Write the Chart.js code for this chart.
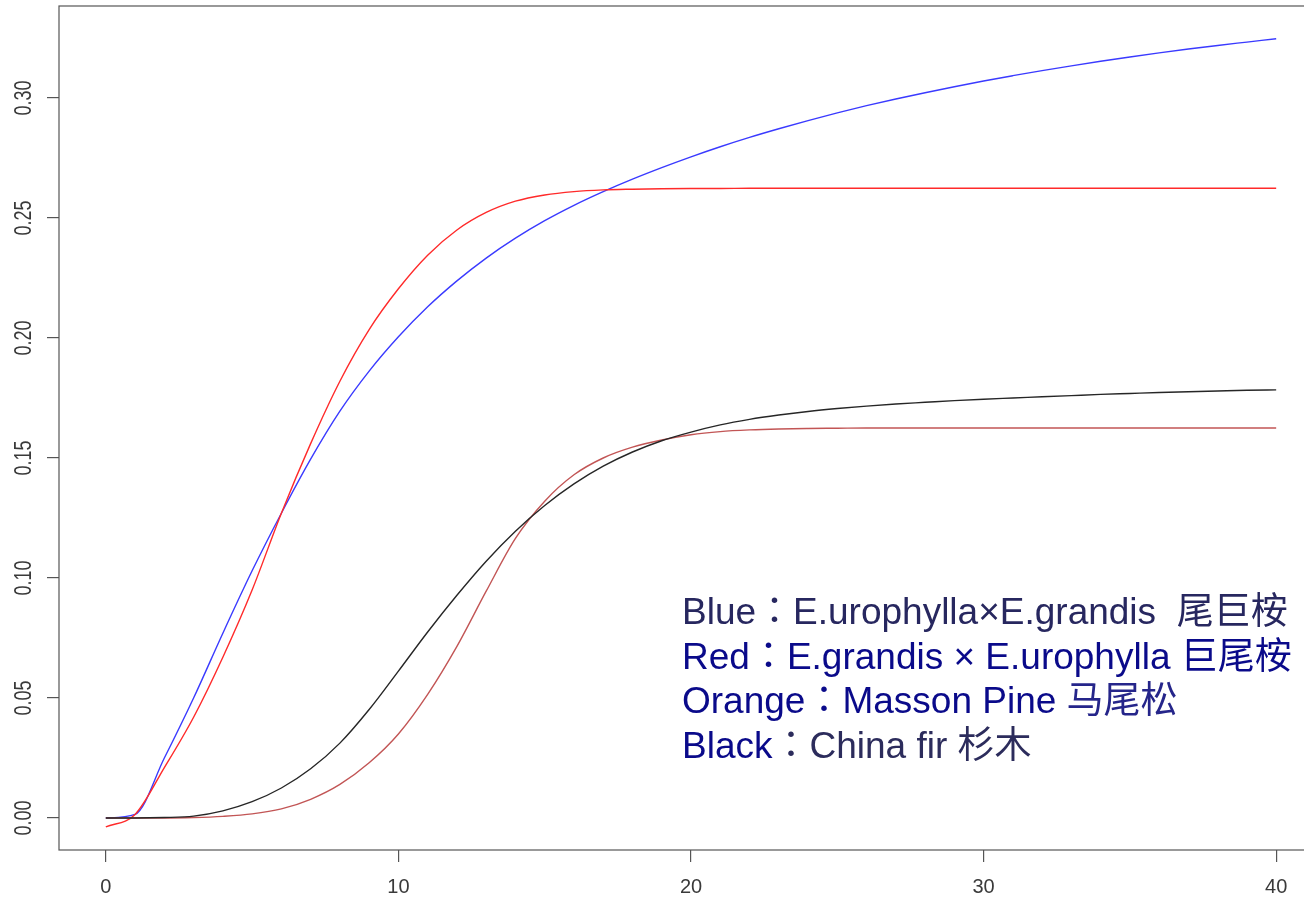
<!DOCTYPE html>
<html><head><meta charset="utf-8">
<script src="https://cdn.jsdelivr.net/npm/chart.js@4.4.1/dist/chart.umd.min.js"></script>
<style>
html,body{margin:0;padding:0;background:#fff;overflow:hidden;width:1304px;height:900px}
#wrap{position:absolute;left:0;top:0;width:1330px;height:900px}
</style>
</head><body><div id="wrap"><canvas id="c"></canvas></div>
<script>
// ---- data ----
const xValues = [0,1,2,3,4,5,6,7,8,9,10,11,12,13,14,15,16,17,18,19,20,21,22,23,24,25,26,27,28,29,30,31,32,33,34,35,36,37,38,39,40];
const blueValues = [0,0.0015,0.025,0.050,0.077,0.103,0.127,0.1495,0.1695,0.1862,0.2005,0.2130,0.2238,0.2333,0.2416,0.2489,0.2553,0.2610,0.2662,0.2710,0.2755,0.2797,0.2836,0.2872,0.2906,0.2938,0.2968,0.2996,0.3022,0.3047,0.3071,0.3093,0.3114,0.3134,0.3153,0.3171,0.3188,0.3204,0.3219,0.3233,0.3247];
const redValues = [-0.0037,0.0015,0.021,0.042,0.067,0.095,0.127,0.156,0.182,0.2035,0.2205,0.2345,0.2450,0.2523,0.2570,0.2596,0.2610,0.2617,0.2620,0.2622,0.2623,0.2623,0.2624,0.2624,0.2624,0.2624,0.2624,0.2624,0.2624,0.2624,0.2624,0.2624,0.2624,0.2624,0.2624,0.2624,0.2624,0.2624,0.2624,0.2624,0.2624];
const massonValues = [0,0,0,0.0002,0.0007,0.0017,0.0038,0.0078,0.0140,0.0230,0.0350,0.0515,0.0715,0.0945,0.1165,0.1320,0.1430,0.1500,0.1545,0.1575,0.1597,0.1610,0.1617,0.1621,0.1623,0.1624,0.1625,0.1625,0.1625,0.1625,0.1625,0.1625,0.1625,0.1625,0.1625,0.1625,0.1625,0.1625,0.1625,0.1625,0.1625];
const firValues = [0,0,0.0002,0.0008,0.0030,0.0068,0.0125,0.0205,0.0312,0.0452,0.0612,0.0775,0.0928,0.1070,0.1195,0.1302,0.1392,0.1466,0.1525,0.1572,0.1608,0.1638,0.1661,0.1679,0.1694,0.1706,0.1716,0.1725,0.1732,0.1739,0.1745,0.1750,0.1755,0.1760,0.1765,0.1769,0.1773,0.1776,0.1779,0.1782,0.1784];
const xTickValues = [0,10,20,30,40];
const xTickLabels = ['0','10','20','30','40'];
const yTickValues = [0,0.05,0.10,0.15,0.20,0.25,0.30];
const yTickLabels = ['0.00','0.05','0.10','0.15','0.20','0.25','0.30'];
const legendNames = ['Blue','Red','Orange','Black'];
const legendSpecies = ['E.urophylla×E.grandis  尾巨桉','E.grandis × E.urophylla 巨尾桉','Masson Pine 马尾松','China fir 杉木'];

// ---- chart ----
Chart.defaults.font.family = '"Liberation Sans", Arial, sans-serif';
const toPts = vals => xValues.map((x, i) => ({x, y: vals[i]}));
const lineDs = (label, vals, color) => ({
  label, data: toPts(vals), borderColor: color, borderWidth: 1.4,
  pointRadius: 0, fill: false, cubicInterpolationMode: 'monotone'
});

const LATIN = '"Liberation Sans", Arial, sans-serif';
const CJK = '"Noto Sans CJK SC", sans-serif';
const CJK_PUNCT = '"Noto Sans CJK TC", sans-serif';
const isCJK = ch => /[\u3000-\u9fff\uff00-\uffef]/.test(ch);

const framePlugin = {
  id: 'framePlugin',
  afterDraw(chart, args, opts) {
    const {ctx, chartArea: a, scales: {y}} = chart;
    ctx.save();
    // plot box
    ctx.strokeStyle = opts.frameColor; ctx.lineWidth = 1.2;
    ctx.strokeRect(a.left, a.top, a.right - a.left, a.bottom - a.top);
    // rotated y tick labels
    ctx.font = opts.yFont; ctx.fillStyle = opts.tickColor;
    ctx.textAlign = 'center'; ctx.textBaseline = 'alphabetic';
    yTickValues.forEach((v, i) => {
      ctx.save();
      ctx.translate(a.left - opts.yLabelOffset, y.getPixelForValue(v));
      ctx.rotate(-Math.PI / 2);
      ctx.scale(1, opts.yLabelStretch);
      ctx.fillText(yTickLabels[i], 0, 0);
      ctx.restore();
    });
    // annotation text
    ctx.textAlign = 'left';
    legendNames.forEach((name, i) => {
      const col = opts.legendColors[i];
      let px = a.left + opts.legendDx;
      const py = a.top + opts.legendDy + i * opts.legendGap;
      const runs = [[name, col[0]], ['：', col[1]]];
      for (const ch of legendSpecies[i]) runs.push([ch, isCJK(ch) ? col[2] : col[1]]);
      runs.forEach(([txt, c]) => {
        for (const ch of txt) {
          const fam = ch === '：' ? CJK_PUNCT : (isCJK(ch) ? CJK : LATIN);
          ctx.font = opts.legendSize + 'px ' + fam;
          ctx.fillStyle = c;
          ctx.fillText(ch, px, py);
          px += ctx.measureText(ch).width;
        }
      });
    });
    ctx.restore();
  }
};

new Chart(document.getElementById('c'), {
  type: 'line',
  data: {
    datasets: [
      lineDs('China fir', firValues, '#262626'),
      lineDs('Masson Pine', massonValues, '#c25555'),
      lineDs('E.grandis × E.urophylla', redValues, '#ff2a2a'),
      lineDs('E.urophylla×E.grandis', blueValues, '#3a3aff')
    ]
  },
  options: {
    responsive: true, maintainAspectRatio: false, animation: false,
    layout: {padding: {left: 0, top: 6, right: 7, bottom: 0}},
    plugins: {
      legend: {display: false}, tooltip: {enabled: false},
      framePlugin: {
        frameColor: '#555555', tickColor: '#3a3a3a',
        yFont: '18px "Liberation Sans", Arial, sans-serif', yLabelOffset: 28, yLabelStretch: 1.3,
        legendSize: 37, legendDx: 623, legendDy: 618, legendGap: 44.5,
        legendColors: [
          ['#27275f', '#27275f', '#27275f'],
          ['#0a0a8a', '#0a0a8a', '#0a0a8a'],
          ['#0a0a8a', '#0a0a8a', '#25258a'],
          ['#0a0a8a', '#2c2c5c', '#2c2c5c']
        ]
      }
    },
    scales: {
      x: {
        type: 'linear', min: -1.6, max: 41.6,
        afterBuildTicks: s => { s.ticks = xTickValues.map(v => ({value: v})); },
        afterFit: s => { s.height = 50; },
        grid: {display: true, drawOnChartArea: false, drawTicks: true, tickLength: 12, color: '#555555', lineWidth: 1.2},
        border: {display: false},
        ticks: {
          autoSkip: false, maxRotation: 0, padding: 13, color: '#3a3a3a',
          font: {size: 20},
          callback: (v) => { const i = xTickValues.indexOf(v); return i >= 0 ? xTickLabels[i] : ''; }
        }
      },
      y: {
        type: 'linear', min: -0.01333, max: 0.33833,
        afterBuildTicks: s => { s.ticks = yTickValues.map(v => ({value: v})); },
        afterFit: s => { s.width = 59; },
        grid: {display: true, drawOnChartArea: false, drawTicks: true, tickLength: 12, color: '#555555', lineWidth: 1.2},
        border: {display: false},
        ticks: {display: false}
      }
    }
  },
  plugins: [framePlugin]
});
</script>
</body></html>
